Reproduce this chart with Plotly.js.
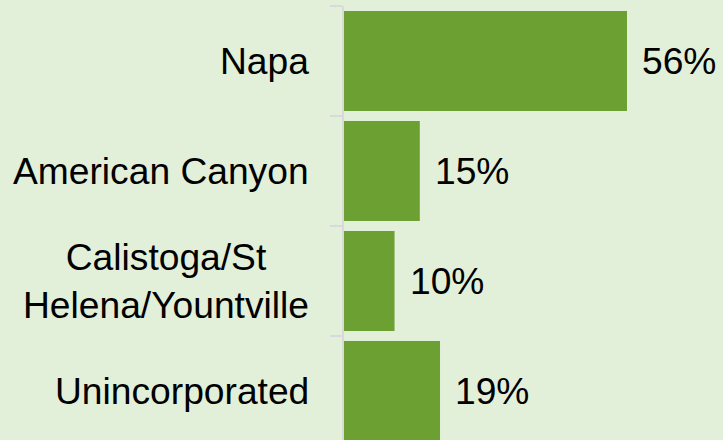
<!DOCTYPE html>
<html>
<head>
<meta charset="utf-8">
<script src="https://cdn.plot.ly/plotly-3.0.1.min.js"></script>
<style>html,body{margin:0;padding:0;background:#e2efd9;}#chart{width:723px;height:440px;}</style>
</head>
<body>
<div id="chart"></div>
<script>
var categories = ["Napa", "American Canyon", "Calistoga/St<br>Helena/Yountville", "Unincorporated"];
var shares = [56, 15, 10, 19];
var valueLabels = ["56%", "15%", "10%", "19%"];

var FONT = "Arial, 'Liberation Sans', sans-serif";
var BG = "#e2efd9";
var BAR = "#6da033";
var FS = 37.2;

var trace = {
  type: "bar",
  orientation: "h",
  y: categories,
  x: shares,
  marker: {color: BAR, line: {width: 0}},
  hoverinfo: "skip"
};

var annotations = [];
categories.forEach(function (c, i) {
  annotations.push({
    xref: "paper", yref: "y", x: 0, y: c,
    xanchor: "right", yanchor: "middle", align: "center",
    xshift: -33, showarrow: false, text: c,
    font: {family: FONT, size: FS, color: "#000000"}
  });
  annotations.push({
    xref: "x", yref: "y", x: shares[i], y: c,
    xanchor: "left", yanchor: "middle",
    xshift: 13, showarrow: false, text: valueLabels[i],
    font: {family: FONT, size: FS, color: "#000000"}
  });
});

var layout = {
  width: 723, height: 440,
  margin: {l: 344, r: 0, t: 6, b: 0, pad: 0},
  paper_bgcolor: BG, plot_bgcolor: BG,
  showlegend: false,
  bargap: 0.0909,
  xaxis: {visible: false, range: [0, 75], fixedrange: true},
  yaxis: {
    type: "category",
    categoryorder: "array", categoryarray: categories,
    range: [3.445, -0.5],
    showticklabels: false,
    showgrid: false, zeroline: false,
    showline: true, linecolor: "#d9d9d9", linewidth: 2,
    ticks: "outside", tickson: "boundaries",
    ticklen: 12, tickwidth: 2, tickcolor: "#d9d9d9"
  },
  annotations: annotations
};

Plotly.newPlot("chart", [trace], layout, {staticPlot: true, displayModeBar: false});
</script>
</body>
</html>
